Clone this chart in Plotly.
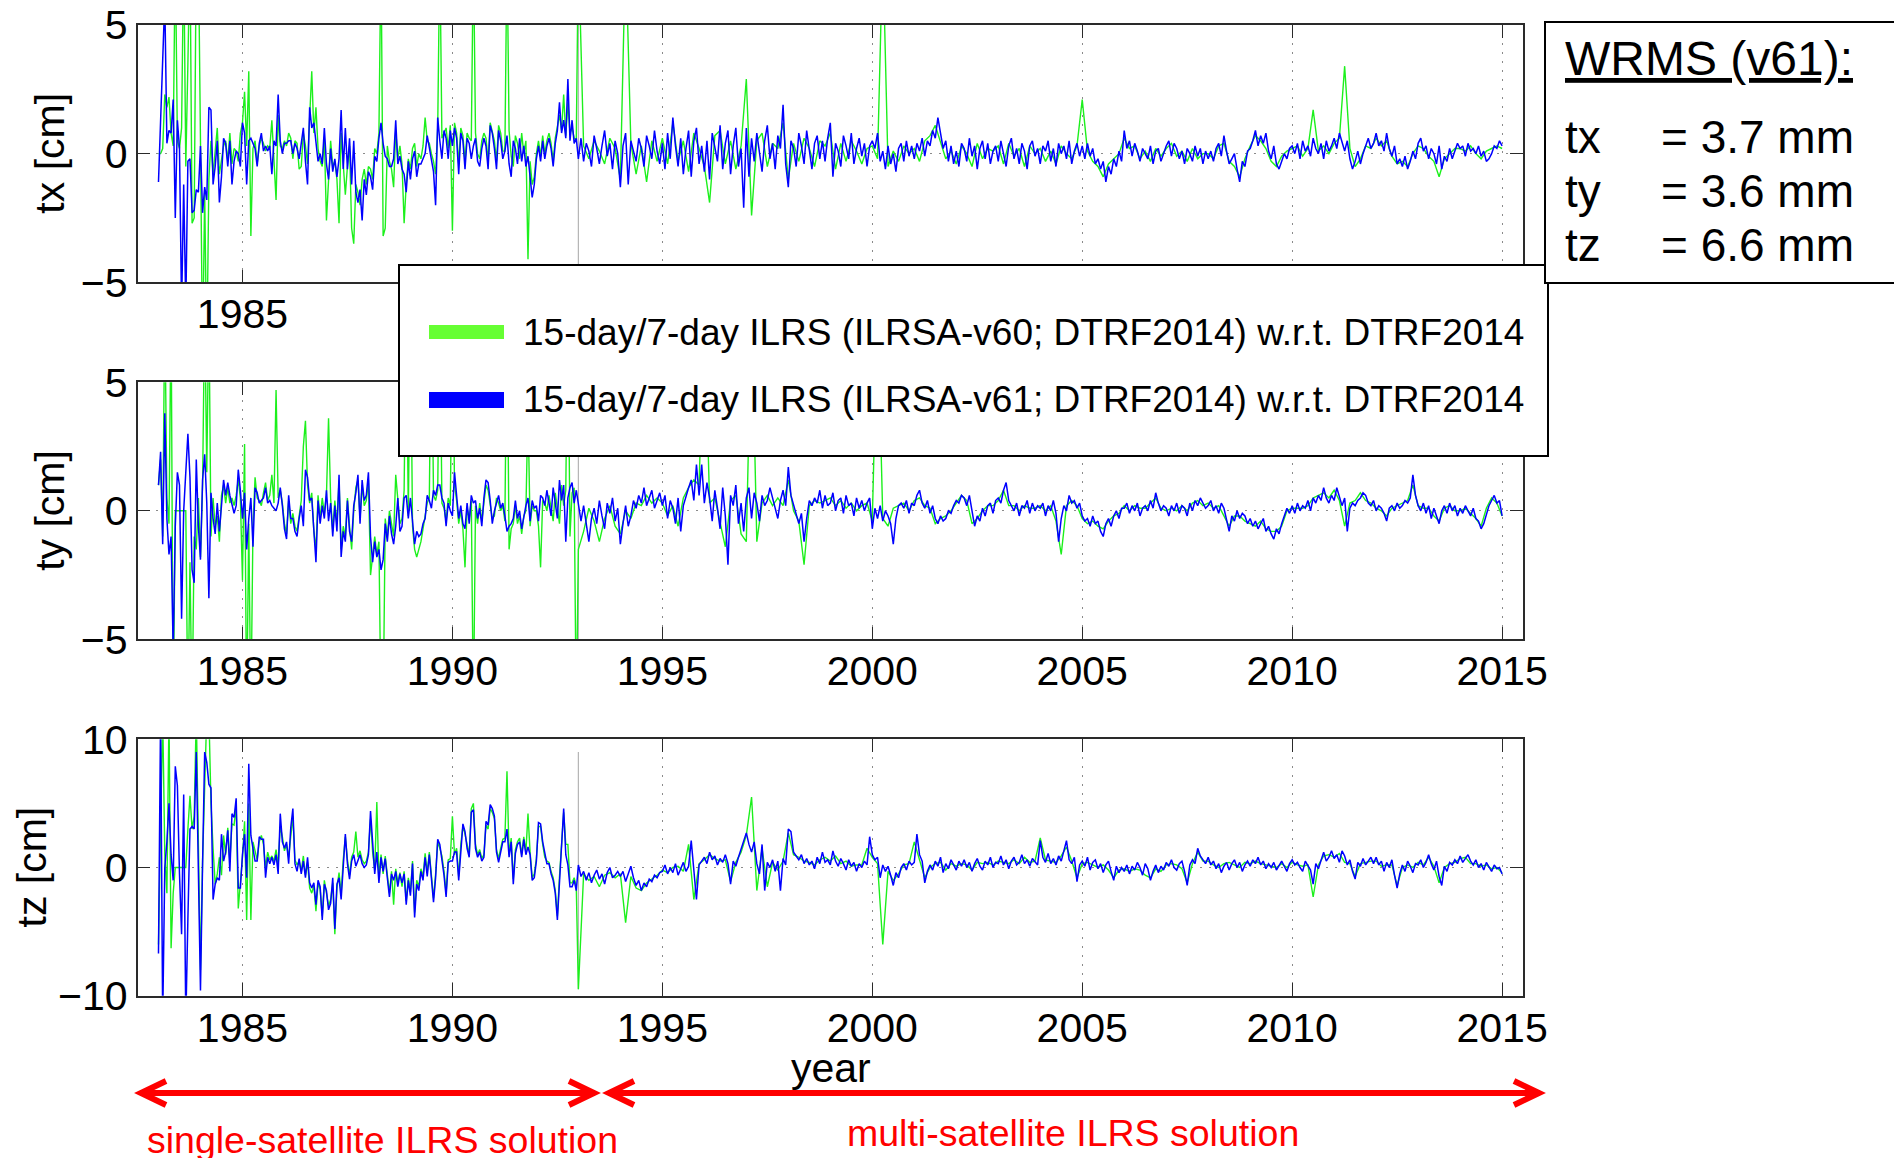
import numpy as np
import plotly.graph_objects as go

W, H = 1894, 1158
M = 20  # uniform margin (px); all positions below are given in figure pixels
FONT = "Liberation Sans, Arial, Helvetica, sans-serif"

# ---------------- epochs (years) ----------------
SINGLE_START, SINGLE_END = 1983.0, 1992.95   # single-satellite, ~20 solutions / yr
MULTI_START, MULTI_END = 1993.0, 2015.0      # multi-satellite
GRAY_EPOCH = 1993.0                          # transition marker line
YEAR_TICKS = [1985, 1990, 1995, 2000, 2005, 2010, 2015]

# ---------------- tx [cm] ----------------
tx_v61_single = [
    -1.1, 1.5, 3.4, 6.0, 0.4, 0.9, 0.8, 2.1, -2.5, 1.3, 0.2, -6.0, -1.2, -6.0, -0.3, -0.2, -2.3, -2.2, -1.4, -1.5,
    0.3, -2.3, -1.3, -1.8, 1.8, 1.7, -1.2, -0.5, 0.5, -1.9, -0.9, 0.6, 0.4, -0.5, 0.5, -1.2, -0.3, 0.1, 0.0, -0.5,
    1.2, 0.8, -1.2, 0.5, 0.6, 0.4, 0.2, -0.5, 0.4, 0.8, 0.1, 0.3, 0.1, 0.3, -0.8, 0.5, 0.3, 2.3, 0.5, 0.0,
    0.4, 0.4, 0.5, 0.5, 0.0, 0.4, 0.2, -0.2, 0.5, 1.0, -0.3, -1.2, 1.8, 1.0, 1.2, 0.5, -0.3, 0.0, -0.4, 1.0,
    -0.4, -1.0, 0.2, -0.7, -0.2, -0.9, -0.2, 1.7, -0.6, 1.0, -0.6, 0.6, -1.2, 0.5, -1.5, -1.9, -1.4, -2.6, -1.0, -1.6,
    -0.7, -0.9, -1.4, -0.1, -0.3, 0.6, 1.2, 0.4, -0.1, -0.2, -0.5, -0.5, -0.2, 1.3, -0.4, -0.1, -0.6, -0.8, -1.5, -0.3,
    -1.0, -0.2, 0.1, -0.9, -0.4, -0.4, -0.2, 0.0, 0.7, 0.2, -0.3, -0.7, -2.0, 1.4, 0.5, -0.2, 0.9, 0.6, -0.2, 0.9,
    0.3, 1.0, 0.6, -0.8, 0.8, 0.5, -0.6, 0.6, 0.4, -0.2, 0.3, 0.6, -0.3, -0.5, 0.2, 0.6, 0.3, -0.6, 1.1, 0.8,
    0.2, -0.6, 0.9, 0.5, -0.2, 0.1, 0.7, -0.4, -0.9, 0.5, 0.2, -0.4, 0.6, -0.3, 0.3, -0.5, -0.1, -0.8, -1.7, -1.2,
    -0.2, 0.3, -0.3, 0.5, -0.2, 0.3, 0.6, 0.2, -0.5, 0.4, 0.9, 2.0, 0.8, 1.3, 0.6, 2.9, 0.5, 1.3, 0.4, 0.6,
]
tx_v60_single = [
    0.0, 0.0, 0.2, 2.3, 1.8, 2.2, 0.8, 0.3, 8.0, 0.5, 0.2, 1.0, 8.0, -0.5, 3.5, 8.0, -2.7, -2.5, 8.0, 8.0,
    0.5, -8.0, -1.5, -8.0, -1.0, 0.5, -0.8, 0.2, 1.0, -0.8, -0.2, 0.3, 0.5, -0.3, 0.8, -0.4, 0.2, 0.1, -0.3, 0.8,
    1.2, 2.4, 0.3, 3.2, -3.2, 0.2, 0.5, -0.4, 0.3, 0.6, 0.4, 0.1, 0.3, 0.2, 1.3, -0.3, -1.8, 1.5, 0.3, 0.2,
    0.5, 0.3, 0.8, 0.6, -0.2, 0.5, 0.4, -0.6, -0.5, 0.8, 0.3, -0.4, 1.2, 3.2, 0.8, 1.8, 0.2, -0.3, -0.5, 0.6,
    -2.6, -0.8, 0.5, -0.5, -0.3, -1.0, -2.7, 0.8, -0.4, -1.6, -0.5, 0.3, -2.9, -3.5, -1.2, -1.5, -2.0, -1.0, -0.6, -1.2,
    -0.5, -0.6, -1.0, 0.2, 0.0, 0.8, 8.0, -3.2, -2.9, 0.3, -0.3, -0.6, -1.3, 0.9, -0.2, 0.3, -0.4, -2.7, -1.2, -0.2,
    -0.6, 0.2, 0.4, -0.5, 0.0, -0.2, 0.3, 1.4, 0.5, 0.4, 0.0, -0.3, -0.8, 1.0, 8.0, 0.6, 0.8, 1.0, 0.2, 1.1,
    -3.0, 1.2, 0.8, -0.4, 1.0, 0.7, -0.3, 0.8, 0.6, 0.5, 8.0, 0.8, 0.0, -0.2, 0.5, 0.8, 0.6, -0.3, 1.2, 0.9,
    0.5, -0.3, 1.1, 0.8, 0.1, 0.1, 8.0, 0.9, -0.1, -0.5, 0.7, 0.4, -0.2, 0.8, 0.0, 0.5, -4.1, -0.3, -1.2, -0.9,
    0.0, 0.5, -0.1, 0.7, 0.0, 0.5, 0.8, 0.4, -0.3, 0.6, 1.1, 1.5, 0.9, 2.3, 0.7, 2.0, 0.8, 1.0, 0.6, 0.5,
]
tx_v61_multi = [
    -0.2, 0.6, -0.3, 0.4, 0.1, -0.5, 0.7, 0.2, -0.4, 0.3, 0.9, -0.1, 0.4, -0.6, 0.5, 0.0,
    -1.3, 0.3, 0.8, -1.2, 0.5, 0.1, -0.3, 0.6, 0.2, -0.5, 0.7, 0.3, -0.2, 0.9, 0.1, -0.4,
    0.4, -0.6, 0.8, -0.2, 1.4, 0.3, -0.5, 0.6, -0.8, 0.2, 0.9, -0.9, 0.5, 1.0, -0.4, 0.3,
    -0.7, 0.5, -1.0, 0.8, 0.2, -0.3, 1.1, -0.6, 0.4, 0.9, -0.8, 0.3, 1.0, -0.5, 0.2, -2.1,
    1.0, -0.9, 0.6, -0.3, 0.8, 0.1, -0.7, 0.5, 1.1, -0.2, 0.4, -0.6, 0.7, 0.2, 1.9, -0.4,
    -1.3, 0.5, 0.2, -0.5, 0.8, 0.3, -0.4, 0.9, 0.1, -0.6, 0.4, 0.7, -0.2, 0.5, -0.3, 0.6,
    1.2, -0.9, 0.4, 0.1, -0.5, 0.7, 0.3, -0.2, 0.8, -0.4, 0.2, 0.6, -0.1, 0.4, -0.5, 0.3,
    0.5, 0.2, 0.8, -0.3, 0.1, -0.6, 0.3, -0.4, 0.0, -0.7, 0.2, 0.4, -0.3, 0.5, -0.1, 0.3,
    -0.2, 0.4, 0.1, 0.6, -0.1, 0.5, 0.3, 0.9, 0.6, 1.4, 0.8, 0.2, 0.5, -0.3, 0.3, -0.4,
    0.1, -0.5, 0.4, 0.2, -0.3, 0.6, -0.1, 0.3, -0.6, 0.2, 0.5, -0.2, 0.4, -0.4, 0.1, 0.3,
    -0.3, 0.5, 0.0, -0.5, 0.3, 0.6, -0.2, 0.2, -0.4, 0.4, 0.1, -0.6, 0.3, 0.5, -0.1, 0.2,
    -0.4, 0.3, 0.1, 0.5, -0.3, 0.2, -0.5, 0.4, 0.0, 0.3, -0.2, 0.5, -0.4, 0.1, 0.4, -0.1,
    0.3, -0.2, 0.4, -0.1, 0.2, -0.4, -0.2, -0.6, -0.3, -1.1, -0.5, -0.8, -0.2, -0.5, 0.1, -0.3,
    0.9, 0.2, 0.5, -0.1, 0.4, 0.1, -0.3, 0.2, 0.0, -0.2, 0.3, -0.4, 0.1, 0.2, -0.3, 0.0,
    0.3, 0.5, -0.1, 0.4, 0.2, -0.2, 0.1, -0.4, 0.2, 0.0, -0.3, 0.3, -0.1, 0.2, -0.4, 0.1,
    -0.2, 0.1, -0.3, 0.2, 0.4, -0.1, 0.7, 0.1, -0.4, -0.2, 0.0, -0.6, -1.1, -0.3, -0.5, 0.1,
    0.2, 0.5, 0.9, 0.3, 0.7, 0.4, 0.8, 0.1, -0.2, 0.3, -0.4, -0.6, -0.3, 0.0, -0.2, 0.2,
    0.3, 0.0, 0.4, -0.2, 0.5, 0.1, 0.3, -0.1, 0.6, 0.2, 0.0, 0.4, -0.2, 0.5, 0.1, 0.3,
    0.6, 0.2, 0.8, 0.4, 0.1, 0.5, -0.2, -0.6, -0.3, 0.1, -0.4, 0.0, 0.3, 0.6, 0.2, 0.4,
    0.8, 0.3, 0.5, 0.1, 0.8, 0.2, -0.1, 0.3, -0.4, -0.2, -0.5, -0.1, -0.6, -0.3, 0.1, -0.2,
    0.4, 0.6, 0.1, 0.3, -0.2, 0.2, 0.0, -0.4, 0.3, -0.6, -0.1, -0.3, 0.2, -0.2, 0.1, 0.4,
    0.2, 0.3, -0.1, 0.4, 0.1, 0.2, 0.0, 0.3, -0.1, 0.1, -0.3, -0.2, 0.0, 0.3, 0.2, 0.5,
    0.3,
]
tx_v60_multi = [
    8.0, 0.3, -0.2, 0.5, 0.1, -0.4, 0.6, 0.2,
    -1.0, 8.0, 0.4, -0.8, 0.3, -1.1, 0.5, -0.3,
    0.6, -0.4, 1.2, -0.3, 0.5, -0.7, 0.8, 0.2,
    -0.5, -1.9, 0.7, 0.9, -0.4, 0.5, -0.6, 0.3,
    2.9, -2.4, 0.5, 0.8, -0.5, 0.4, 0.2, 1.2,
    -1.0, 0.4, -0.3, 0.6, 0.2, -0.5, 0.5, 0.3,
    0.8, -0.6, 0.4, -0.3, 0.5, 0.1, -0.4, 0.2,
    0.3, -0.2, 8.0, -0.5, 0.1, -0.3, 0.3, 0.0,
    0.2, -0.3, 0.5, 0.7, 1.1, 0.4, -0.2, 0.1,
    -0.4, 0.3, 0.0, -0.5, 0.4, -0.2, 0.2, 0.1,
    0.3, -0.4, 0.4, -0.1, 0.2, -0.5, 0.3, 0.0,
    0.2, -0.3, 0.1, -0.4, 0.3, 0.0, -0.2, 0.3,
    2.1, 0.1, -0.3, -0.5, -0.9, -0.4, -0.2, 0.0,
    0.6, 0.2, 0.3, -0.2, 0.1, -0.3, 0.2, -0.1,
    0.2, 0.4, -0.1, 0.1, -0.3, 0.2, -0.2, 0.0,
    0.0, -0.2, 0.3, 0.4, -0.3, -0.5, -0.9, -0.2,
    0.3, 0.7, 0.5, 0.2, -0.3, -0.5, -0.1, 0.1,
    0.2, 0.3, -0.1, 0.2, 1.7, 0.1, 0.3, 0.0,
    0.4, 0.6, 3.4, 0.2, -0.5, -0.2, 0.3, 0.2,
    0.6, 0.3, 0.5, -0.1, -0.4, -0.3, -0.5, 0.0,
    0.3, 0.2, -0.1, -0.3, -0.9, -0.2, 0.0, 0.2,
    0.2, 0.1, 0.3, 0.0, -0.2, 0.1, 0.2, 0.3,
    0.2,
]

# ---------------- ty [cm] ----------------
ty_v61_single = [
    1.0, 2.3, -1.3, 3.8, -0.3, -1.7, -1.0, -5.5, -0.6, 1.5, 1.0, -4.2, 0.0, 1.5, 3.0, 1.3, -2.3, -2.8, 2.0, -0.6,
    -1.9, 1.2, 2.2, 0.3, -3.4, 0.7, -0.3, -0.9, 0.3, -0.8, 0.2, 1.2, 0.6, 1.1, 0.6, 0.3, -0.1, 0.2, 1.6, 0.8,
    -0.3, 0.7, -1.5, -0.3, 0.5, -1.4, 0.9, 0.7, 0.3, 0.4, 0.5, 0.9, 0.3, 0.4, 0.2, 0.1, 0.0, 0.3, 0.9, 0.2,
    -0.7, -1.1, 0.6, -0.3, -0.3, -0.8, -1.0, -0.3, 0.2, -0.6, 1.6, 1.3, 0.4, 0.5, -1.0, -2.0, 0.4, -0.5, 0.2, -0.3,
    0.8, -0.4, 0.3, -1.0, 0.2, -0.8, 1.4, -1.8, -0.8, -1.2, 0.4, -0.8, -1.2, 0.2, 0.7, 1.4, -0.5, 1.2, 0.4, 0.6,
    1.5, -1.0, -2.0, -1.2, -1.8, -1.5, -2.3, -1.9, -0.5, -1.2, -0.2, -0.9, -1.3, -0.6, 0.5, -0.8, -0.6, 0.5, 0.6, -0.3,
    0.5, -0.4, -1.3, -0.8, -1.0, -0.9, -0.5, -0.3, 0.6, 0.4, 0.1, 0.8, 0.6, 1.0, 1.0, 0.5, 0.3, -0.6, 0.3, 0.0,
    -0.2, 1.5, 0.6, -0.3, 0.2, -0.5, -0.7, 0.3, -0.5, 0.6, 0.3, 0.4, -0.3, 0.1, -0.6, 0.5, 1.2, 1.1, 0.4, -0.5,
    0.0, 0.3, 0.6, 0.1, 0.3, -0.2, -0.8, -0.6, -0.5, -0.3, 0.4, -0.3, 0.0, -0.7, -0.2, 0.2, 0.5, -0.4, 0.4, 0.1,
    0.2, -0.4, 0.6, 0.5, 0.2, 0.8, 0.3, -0.2, 0.9, 0.3, -0.3, 1.2, 0.4, 1.0, -1.2, 0.5, 0.9, 1.1, 0.3, 0.8,
]
ty_v60_single = [
    1.0, 2.0, -1.0, 8.0, 0.5, -0.5, 8.0, -8.0, 0.0, 0.0, 0.0, 0.0, 0.0, 0.0, -8.0, -2.0, -8.0, -1.0, -1.5, 0.5,
    -1.8, 1.0, 8.0, 1.5, 8.0, -1.0, 0.5, -0.6, -0.2, -1.2, 0.6, 1.0, 0.3, 0.9, 0.3, 0.5, 0.2, 0.6, 1.2, 0.5,
    -2.7, 2.6, -8.0, -0.5, -8.0, -0.6, 1.3, 0.5, 0.4, 0.2, 0.7, 1.1, 0.4, 0.6, 1.4, 0.3, 4.7, 0.5, 0.8, 0.3,
    -0.5, -0.9, 0.4, -0.5, -0.1, -0.6, -0.8, -0.2, 0.4, 2.5, 3.5, 1.0, 0.3, 0.7, -0.8, -1.5, 0.6, -0.3, 0.5, -0.1,
    0.6, 3.6, 0.5, -0.8, 0.4, -0.5, 1.2, -1.5, -0.6, -1.0, 0.5, -0.6, -1.5, 0.0, 0.9, 1.2, -0.3, 1.0, 0.2, 0.4,
    1.2, -2.5, -1.8, -1.0, -1.7, -1.2, -8.0, -8.0, -0.3, -1.0, 0.0, -0.6, -1.0, 1.4, 0.3, -0.5, -0.3, 0.8, 8.0, -0.2,
    8.0, -0.6, -1.5, -1.8, -1.5, -1.2, -0.7, -0.2, 0.3, 0.5, 8.0, 0.6, 0.4, 0.8, 8.0, 0.3, 0.1, -0.4, 0.5, 0.2,
    8.0, 1.0, 0.4, -0.5, 0.0, -0.7, -2.2, 0.1, -0.3, 0.4, -8.0, 0.2, -0.5, 0.3, -0.4, 0.3, 1.0, 0.8, 0.2, -0.3,
    -0.2, 0.5, 0.3, 0.0, 0.2, -0.4, 8.0, -1.5, -0.7, -0.5, 0.2, -0.5, -0.2, -0.9, -0.2, 0.0, 4.0, -0.6, 0.2, 0.0,
    0.0, -0.6, -2.2, 0.4, 0.3, 0.0, 0.6, 0.1, -0.4, 0.7, 0.1, -0.5, 1.0, 0.2, 0.8, 8.0, -1.0, 0.7, 0.9, -8.0,
]
ty_v61_multi = [
    0.3, -0.4, 0.2, -0.6, -1.2, -0.3, 0.1, -0.5, 0.4, -0.2, -0.7, 0.3, -0.1, 0.5, -0.4, 0.1,
    -1.3, -0.5, 0.2, -0.6, -0.2, 0.4, 0.1, 0.6, 0.3, 0.9, 0.2, 0.5, 0.8, 0.1, 0.4, 0.7,
    0.2, 0.6, -0.3, 0.4, 0.1, -0.5, 0.5, -0.8, 0.2, 0.6, 0.9, 1.2, 0.4, 1.8, 0.6, 1.8,
    0.3, 1.1, 0.5, -0.4, 0.8, 0.1, -0.7, 0.9, -0.2, -2.1, 0.6, 0.2, 1.0, -0.5, 0.3, -0.8,
    0.5, 0.9, -0.3, 0.7, 0.3, -0.4, 0.6, 0.2, 0.4, 0.9, 0.5, 0.1, -0.3, 0.4, 0.8, 0.2,
    1.7, 0.6, 0.2, -0.2, -0.5, -0.1, -1.2, -0.3, 0.4, 0.2, 0.5, 0.3, 0.8, 0.1, 0.6, 0.2,
    0.3, 0.7, 0.0, 0.4, 0.5, -0.1, 0.6, 0.2, 0.3, -0.2, 0.5, 0.1, 0.4, 0.0, 0.3, 0.5,
    -0.7, 0.1, -0.3, 0.2, -0.4, 0.0, -0.2, -0.5, -1.3, -0.3, 0.2, 0.3, 0.1, 0.4, -0.1, 0.3,
    0.2, 0.6, 0.8, 0.3, 0.1, 0.4, -0.1, 0.2, -0.3, -0.5, -0.2, -0.4, -0.3, 0.0, -0.1, 0.2,
    0.4, 0.3, 0.6, 0.5, 0.2, 0.6, -0.1, -0.6, -0.2, -0.4, 0.1, -0.2, 0.2, 0.3, -0.1, 0.4,
    0.5, 0.3, 0.8, 1.1, 0.4, 0.2, 0.0, 0.3, -0.2, 0.2, 0.1, 0.4, -0.1, 0.3, 0.0, 0.2,
    0.1, 0.3, -0.2, 0.2, 0.0, 0.4, -0.1, -1.2, -0.3, 0.2, 0.0, 0.6, 0.3, 0.4, 0.1, 0.3,
    -0.2, -0.4, -0.3, -0.6, -0.2, -0.5, -0.4, -0.8, -1.0, -0.5, -0.3, -0.6, -0.2, 0.0, -0.3, 0.1,
    0.1, 0.3, -0.1, 0.2, 0.0, 0.3, -0.2, 0.1, 0.2, 0.0, 0.4, 0.1, 0.7, 0.3, 0.0, 0.2,
    0.1, -0.2, 0.2, 0.0, 0.3, -0.1, 0.2, 0.1, -0.2, 0.3, 0.0, 0.4, 0.2, 0.5, 0.3, 0.1,
    0.2, 0.4, 0.0, 0.2, -0.1, 0.3, 0.1, -0.3, -0.8, -0.2, -0.4, 0.0, -0.3, -0.1, -0.2, -0.5,
    -0.3, -0.6, -0.4, -0.7, -0.5, -0.3, -0.8, -0.6, -0.9, -1.1, -0.7, -0.9, -0.5, -0.2, 0.1, -0.1,
    0.2, -0.1, 0.3, 0.0, 0.2, 0.1, 0.4, 0.0, 0.5, 0.3, 0.6, 0.4, 0.9, 0.5, 0.3, 0.6,
    0.4, 0.9, 0.5, 0.2, 0.5, -0.8, 0.1, 0.3, 0.2, 0.4, 0.5, 0.7, 0.6, 0.3, 0.2, 0.4,
    0.0, 0.2, 0.1, -0.1, -0.4, 0.1, 0.2, 0.0, 0.3, 0.1, 0.2, 0.4, 0.3, 0.5, 1.4, 0.6,
    0.2, 0.0, 0.3, -0.1, 0.2, -0.3, 0.1, -0.2, -0.5, 0.0, 0.2, -0.1, 0.3, 0.0, 0.2, -0.2,
    0.1, -0.1, 0.2, 0.0, -0.2, 0.1, -0.3, -0.4, -0.7, -0.5, -0.1, 0.2, 0.4, 0.6, 0.3, 0.4,
    -0.2,
]
ty_v60_multi = [
    -1.5, -0.8, 0.1, -0.4, -1.2, -0.3, 0.2, -0.6,
    -0.9, 0.0, -0.3, 0.3, 0.2, 0.6, 0.3, 0.5,
    0.3, -0.2, 0.2, -0.6, 0.5, 0.9, 1.2, 1.0,
    8.0, 0.3, 0.5, -0.5, -1.4, 0.4, 0.6, -0.9,
    -1.2, 8.0, -1.2, 0.3, 0.6, 0.2, 0.5, 0.2,
    1.2, 0.0, -0.4, -2.1, 0.2, 0.4, 0.3, 0.4,
    0.5, 0.2, 0.4, 0.1, 0.3, 0.0, 0.2, 0.3,
    -0.4, 8.0, -0.3, -0.6, 0.1, 0.2, 0.3, 0.0,
    0.4, 0.5, 0.2, 0.1, -0.5, -0.3, -0.2, 0.0,
    0.3, 0.6, 0.4, -0.5, -0.3, 0.0, 0.2, 0.2,
    0.4, 0.8, 0.2, 0.2, 0.0, 0.2, 0.1, 0.1,
    0.2, 0.0, 0.2, -0.4, -1.7, 0.2, 0.4, 0.2,
    -0.3, -0.5, -0.4, -0.6, -0.7, -0.4, -0.2, -0.1,
    0.2, 0.0, 0.2, 0.1, 0.1, 0.3, 0.5, 0.1,
    0.0, 0.1, 0.0, 0.2, 0.0, 0.3, 0.4, 0.2,
    0.3, 0.1, 0.2, -0.2, -0.6, -0.2, -0.2, -0.4,
    -0.5, -0.6, -0.4, -0.7, -0.8, -0.8, -0.6, 0.0,
    0.1, 0.1, 0.1, 0.2, 0.5, 0.6, 0.7, 0.5,
    0.8, 0.4, -0.6, 0.3, 0.4, 0.7, 0.4, 0.3,
    0.1, 0.0, -0.2, 0.1, 0.2, 0.3, 0.4, 1.0,
    0.2, 0.1, 0.1, -0.2, -0.4, 0.1, 0.2, 0.0,
    0.0, 0.1, -0.1, -0.3, -0.6, 0.1, 0.5, 0.3,
    -0.2,
]

# ---------------- tz [cm] ----------------
tz_v61_single = [
    -6.7, 12.0, -12.0, 0.0, 2.0, 5.0, 1.0, -1.0, 7.9, 6.4, -0.5, -5.2, 5.7, -12.0, -4.0, 3.0, 3.2, 3.0, 9.0, 0.2,
    -9.6, 0.3, 9.0, 8.2, 6.5, 6.2, -2.5, -1.3, -0.8, -1.0, 2.6, 0.5, 1.2, 2.9, -0.3, 4.2, 3.9, 5.4, -1.6, -1.6,
    1.0, 2.6, -0.8, 8.1, 2.5, 1.5, 0.5, 0.5, 2.4, 2.2, 2.2, -0.8, 0.8, 0.3, 0.8, 0.2, 1.0, -0.5, 4.2, 2.0,
    1.5, 2.0, 0.3, 3.1, 4.6, 0.3, -0.3, 0.7, -0.5, 0.5, -0.8, 0.8, -1.2, -1.6, -1.2, -2.9, -1.0, -1.5, -4.1, -1.3,
    -1.8, -3.3, -2.8, -0.8, -4.8, -1.3, -0.8, -2.5, 0.3, 2.6, 0.3, -0.9, 0.5, 1.0, 0.1, 0.5, 1.0, 0.3, 0.0, 0.2,
    1.0, 4.4, 1.5, -0.5, 1.2, -1.2, 0.8, -0.3, 0.7, -1.0, -2.3, -0.5, -1.0, -0.3, -1.5, -0.5, -1.2, -0.5, -2.9, -1.0,
    -2.2, 0.3, -3.9, -1.3, -1.8, -0.3, -1.0, 0.8, -0.7, 1.0, -1.1, -2.7, -0.8, 2.2, 1.8, 0.7, -0.6, -2.3, 0.4, 0.5,
    0.5, 1.2, 1.2, -1.0, 1.5, 3.4, 2.8, 1.5, 0.8, 4.3, 4.5, 1.5, 0.8, 1.2, 0.5, 0.8, 3.6, 3.3, 4.9, 4.6,
    4.0, 1.2, 0.4, 1.2, 2.0, 2.0, 3.0, 0.8, 2.0, -1.3, 1.1, 1.8, 2.0, 0.8, 2.2, 1.0, 1.6, 1.0, -1.0, -0.8,
    0.5, 3.5, 3.4, 2.0, 1.0, 0.3, 0.3, -0.5, -1.0, -2.0, -4.1, -1.0, 2.5, 4.6, 1.0, 0.2, -1.5, -1.5, -1.0, -1.8,
]
tz_v60_single = [
    -6.0, 3.0, 12.0, 1.0, -2.0, 12.0, -6.3, -2.0, 0.0, 0.0, 0.0, 0.0, 0.0, 0.0, 3.0, 5.6, 3.0, 4.0, 12.0, 0.5,
    -8.0, 0.5, 8.5, 12.0, 12.0, 5.0, 1.5, -1.3, -0.5, 0.8, -0.6, 2.5, 1.0, 3.1, 0.5, 3.4, 3.3, 4.8, -3.2, -1.5,
    0.8, 3.6, -4.1, 5.0, -4.1, 2.0, 1.2, 0.6, 2.0, 2.5, 1.8, 0.0, 1.2, 0.6, 0.9, 0.5, 1.4, 0.2, 3.2, 2.4,
    1.3, 1.8, 0.8, 2.6, 4.0, 0.6, 0.2, 0.5, -0.3, 0.9, -0.6, 0.4, -1.6, -2.0, -1.4, -3.4, -1.2, -1.7, -3.8, -1.0,
    -2.2, -3.0, -2.5, -1.2, -5.2, -1.6, -0.4, -2.0, 0.6, 2.4, 0.6, -0.6, 0.8, 1.2, 2.8, 0.8, 1.3, 0.6, 0.3, 0.5,
    1.2, 3.8, 1.2, -0.2, 5.1, -0.9, 1.0, -0.5, 0.9, -0.8, -2.0, -0.3, -2.9, -0.1, -1.2, -0.4, -1.5, -0.3, -2.6, -0.8,
    -1.9, 0.5, -3.5, -1.0, -1.5, -0.1, -0.7, 1.1, -0.4, 1.2, -0.8, -2.4, -0.5, 2.0, 1.5, 0.9, -0.3, -2.0, 0.6, 0.7,
    4.0, 1.0, 1.5, -0.7, 1.8, 3.2, 2.6, 1.7, 1.0, 4.6, 5.0, 1.8, 1.0, 1.4, 0.7, 1.0, 3.3, 3.0, 4.6, 4.3,
    3.8, 1.4, 0.7, 1.5, 2.2, 2.3, 7.5, 1.0, 2.3, -0.9, 1.4, 2.0, 2.3, 1.0, 2.4, 1.2, 4.2, 1.2, -0.8, -0.5,
    0.7, 3.2, 3.2, 1.8, 0.8, 0.5, 0.4, -0.3, -0.8, -1.8, -3.8, -0.7, 2.2, 4.3, 1.8, 1.8, -1.2, -1.2, -0.8, -1.5,
]
tz_v61_multi = [
    0.2, -0.7, -0.3, -1.0, -0.4, -1.2, -0.6, -0.2, -0.9, -0.5, -1.3, -0.4, 0.0, -0.8, -0.6, -0.3,
    -0.7, -0.3, -1.1, -0.5, 0.1, -0.8, -1.4, -1.0, -1.8, -1.2, -1.5, -0.9, -1.1, -0.6, -0.8, -0.4,
    -0.3, 0.2, -0.5, 0.0, -0.4, 0.3, -0.6, -0.1, 0.4, -0.3, 0.1, 2.1, -0.5, -2.5, 0.2, 0.5,
    0.8, 0.3, 1.2, 0.6, 0.9, 0.2, 0.7, 0.4, 1.0, 0.3, -1.3, 0.5, 0.1, 0.8, 1.5, 2.2,
    2.7, 1.8, 1.2, 2.0, 0.3, -0.5, 1.8, -1.8, 0.4, 0.0, 0.6, -0.3, 0.5, -1.8, 0.7, 0.2,
    3.0, 2.8, 1.2, 0.9, 0.6, 1.0, 0.3, 0.7, 0.2, 0.5, -0.1, 0.8, 0.3, 1.2, 0.4, 0.6,
    0.2, 1.3, 0.5, 0.1, 0.7, 0.3, -0.2, 0.6, 0.1, 0.4, -0.3, 0.3, 0.0, 0.5, 0.2, 2.4,
    1.0, 0.6, 0.8, -0.8, 0.2, -0.3, 0.1, -0.6, -1.4, -0.4, -0.8, 0.0, 0.3, -0.2, 0.5, 0.2,
    0.4, 2.6, 1.0, 0.5, -1.2, -0.3, 0.2, -0.2, 0.5, 0.1, 0.8, -0.4, 0.3, -0.1, 0.6, 0.2,
    -0.2, 0.5, 0.1, 0.6, 0.0, 0.4, -0.3, 0.3, 0.7, 0.1, -0.2, 0.5, 0.2, 0.8, 0.0, 0.4,
    0.3, 0.9, 0.2, 0.6, -0.1, 0.5, 0.8, 0.2, 0.4, 1.0, 0.3, 0.6, 0.1, 0.7, 0.4, 0.2,
    2.1, 0.8, 0.4, 1.1, 0.3, 0.7, 0.2, 0.9, 0.5, 1.2, 2.1, 0.6, 0.3, 0.8, -1.1, 0.2,
    0.5, 0.1, 0.8, -0.2, 0.4, 0.6, -0.1, 0.3, -0.4, 0.2, 0.5, -0.3, -1.0, 0.1, -0.4, 0.0,
    -0.3, 0.2, -0.5, 0.1, -0.2, 0.4, 0.0, -0.6, 0.3, -0.1, -1.0, -0.3, 0.2, -0.4, 0.1, -0.2,
    0.4, 0.1, 0.6, 0.0, -0.2, 0.3, 0.5, -0.3, -1.4, 0.2, 0.6, 0.3, 1.5, 0.9, 0.6, 0.3,
    0.8, 0.2, 0.5, -0.1, 0.3, -0.4, 0.1, 0.4, -0.2, 0.3, 0.6, 0.0, 0.4, -0.3, 0.2, 0.5,
    0.1, 0.6, 0.3, 0.8, 0.2, 0.5, -0.1, 0.3, 0.0, 0.4, -0.2, 0.2, 0.5, 0.1, -0.3, 0.3,
    0.6, 0.2, 0.4, 0.0, -0.3, 0.5, 0.1, -0.2, -1.3, 0.3, -0.1, 0.6, 1.2, 0.5, 0.8, 1.3,
    0.7, 1.0, 0.4, 1.3, 0.9, 0.2, 0.6, -0.3, -0.9, 0.4, 0.1, 0.7, 0.2, 0.5, 0.8, 0.3,
    0.8, 0.2, 0.5, -0.3, 0.4, 0.0, 0.6, -0.6, -1.6, -0.5, 0.2, -0.3, 0.5, 0.1, -0.4, 0.3,
    0.2, 0.6, 0.0, 0.4, 1.0, 0.3, -0.2, 0.5, -0.7, -1.4, 0.1, -0.3, 0.4, 0.2, 0.6, 0.3,
    0.9, 0.4, 0.7, 1.0, 0.5, 0.2, 0.6, 0.0, 0.3, -0.2, 0.4, 0.1, -0.3, 0.2, -0.1, 0.0,
    -0.5,
]
tz_v60_multi = [
    -9.5, -0.5, -1.0, -0.7, -1.5, -0.6, -0.4, -0.8,
    -0.5, -4.3, -0.7, -1.6, -1.8, -1.2, -0.9, -0.6,
    -0.2, -0.4, 0.0, 0.1, -0.3, 1.8, -2.5, 0.3,
    0.6, 1.0, 0.7, 0.5, 0.6, -1.1, 0.4, 1.2,
    2.5, 5.5, -1.8, 1.5, -1.5, 0.4, -0.2, 0.5,
    2.7, 1.0, 0.8, 0.5, 0.4, 0.2, 0.6, 0.8,
    0.5, 0.9, 0.3, 0.5, 0.1, 0.2, 0.2, 1.5,
    0.8, 0.3, -6.0, -0.3, -1.0, -0.5, 0.2, 0.3,
    2.0, 0.5, -0.8, 0.0, 0.3, 0.4, -0.2, 0.3,
    0.1, 0.3, 0.2, -0.2, 0.4, 0.3, 0.4, 0.2,
    0.5, 0.4, 0.3, 0.6, 0.3, 0.8, 0.4, 0.5,
    2.3, 0.6, 0.5, 0.4, 0.9, 1.6, 0.5, -0.8,
    0.3, 0.4, 0.2, 0.0, 0.2, -0.2, -0.8, -0.2,
    -0.1, -0.3, -0.1, -0.2, -0.6, -0.8, -0.1, -0.3,
    0.2, 0.3, 0.2, -0.1, -1.2, 0.3, 1.2, 0.5,
    0.5, 0.2, 0.0, 0.3, 0.4, 0.2, 0.0, 0.4,
    0.3, 0.5, 0.3, 0.2, 0.1, 0.0, 0.3, 0.0,
    0.4, 0.2, 0.1, 0.2, -2.3, 0.2, 0.9, 1.0,
    0.8, 1.1, 0.4, 0.3, -0.7, 0.3, 0.4, 0.5,
    0.5, 0.1, 0.2, 0.2, -1.4, 0.0, 0.2, 0.0,
    0.4, 0.2, 0.8, 0.1, -1.2, 0.0, 0.3, 0.4,
    0.7, 0.8, 0.3, 0.3, 0.1, 0.2, -0.1, 0.0,
    -0.4,
]

# transition marker (gray vertical line) extents per panel [cm]
gray_tx = [5.0, -4.3]
gray_ty = [5.0, -5.0]
gray_tz = [9.0, -9.5]

# annotation texts
LEGEND_V60 = "15-day/7-day ILRS (ILRSA-v60; DTRF2014) w.r.t. DTRF2014"
LEGEND_V61 = "15-day/7-day ILRS (ILRSA-v61; DTRF2014) w.r.t. DTRF2014"
WRMS_ROWS = [("tx", "= 3.7 mm"), ("ty", "= 3.6 mm"), ("tz", "= 6.6 mm")]

GREEN = "#1cf01c"
BLUE = "#0000ff"
RED = "#ff0000"


def epochs(single, multi):
    return np.concatenate([np.linspace(SINGLE_START, SINGLE_END, len(single)),
                           np.linspace(MULTI_START, MULTI_END, len(multi))])


def px(x):
    return (x - M) / (W - 2 * M)


def py(y):
    return 1 - (y - M) / (H - 2 * M)


panels = [
    dict(v60=(tx_v60_single, tx_v60_multi), v61=(tx_v61_single, tx_v61_multi), gray=gray_tx,
         rng=[-5, 5], tv=[-5, 0, 5], top=25.0, bot=282.3, title="tx [cm]", tx=50),
    dict(v60=(ty_v60_single, ty_v60_multi), v61=(ty_v61_single, ty_v61_multi), gray=gray_ty,
         rng=[-5, 5], tv=[-5, 0, 5], top=382.3, bot=639.3, title="ty [cm]", tx=50),
    dict(v60=(tz_v60_single, tz_v60_multi), v61=(tz_v61_single, tz_v61_multi), gray=gray_tz,
         rng=[-10, 10], tv=[-10, 0, 10], top=739.3, bot=995.7, title="tz [cm]", tx=31),
]

fig = go.Figure()
layout = dict(width=W, height=H, margin=dict(l=M, r=M, t=M, b=M, autoexpand=False),
              paper_bgcolor="white", plot_bgcolor="white", showlegend=False)

axis_common = dict(showline=True, linecolor="#2a2a2a", linewidth=1.6, mirror="ticks",
                   ticks="inside", ticklen=13, tickwidth=1.4, tickcolor="#2a2a2a",
                   showgrid=True, gridcolor="#8a8a8a", gridwidth=1, griddash="2px,7px",
                   zeroline=False, automargin=False,
                   tickfont=dict(family=FONT, size=41, color="black"))

annotations = []
for k, p in enumerate(panels, start=1):
    xa = "x" if k == 1 else f"x{k}"
    ya = "y" if k == 1 else f"y{k}"
    fig.add_trace(go.Scatter(x=[GRAY_EPOCH, GRAY_EPOCH], y=p["gray"], mode="lines",
                             line=dict(color="#b4b4b4", width=1.2), xaxis=xa, yaxis=ya,
                             hoverinfo="skip"))
    fig.add_trace(go.Scatter(x=epochs(*p["v60"]), y=np.concatenate(p["v60"]), mode="lines",
                             line=dict(color=GREEN, width=1.4), xaxis=xa, yaxis=ya,
                             name="v60"))
    fig.add_trace(go.Scatter(x=epochs(*p["v61"]), y=np.concatenate(p["v61"]), mode="lines",
                             line=dict(color=BLUE, width=1.5), xaxis=xa, yaxis=ya,
                             name="v61"))
    xkey = "xaxis" if k == 1 else f"xaxis{k}"
    ykey = "yaxis" if k == 1 else f"yaxis{k}"
    layout[xkey] = dict(axis_common, domain=[px(137.5), px(1523.1)], range=[1982.5, 2015.5],
                        tickvals=YEAR_TICKS, anchor=ya, ticklabelstandoff=-5)
    layout[ykey] = dict(axis_common, domain=[py(p["bot"]), py(p["top"])], range=p["rng"],
                        tickvals=p["tv"], anchor=xa, ticklabelstandoff=0)
    annotations.append(dict(text=p["title"], x=px(p["tx"]), y=py((p["top"] + p["bot"]) / 2),
                            xref="paper", yref="paper", xanchor="center", yanchor="middle",
                            textangle=-90, showarrow=False,
                            font=dict(family=FONT, size=41, color="black")))

shapes = []
# legend box
shapes.append(dict(type="rect", xref="paper", yref="paper", x0=px(399), x1=px(1548),
                   y0=py(265), y1=py(456), fillcolor="white", line=dict(color="black", width=2),
                   layer="above"))
shapes.append(dict(type="rect", xref="paper", yref="paper", x0=px(429), x1=px(504),
                   y0=py(325), y1=py(339), fillcolor="#66ff33", line=dict(width=0), layer="above"))
shapes.append(dict(type="rect", xref="paper", yref="paper", x0=px(429), x1=px(504),
                   y0=py(392), y1=py(408), fillcolor=BLUE, line=dict(width=0), layer="above"))
annotations.append(dict(text=LEGEND_V60, x=px(521), y=py(332), xref="paper", yref="paper",
                        xanchor="left", yanchor="middle", showarrow=False,
                        font=dict(family=FONT, size=37, color="black")))
annotations.append(dict(text=LEGEND_V61, x=px(521), y=py(399), xref="paper", yref="paper",
                        xanchor="left", yanchor="middle", showarrow=False,
                        font=dict(family=FONT, size=37, color="black")))

# WRMS box
shapes.append(dict(type="rect", xref="paper", yref="paper", x0=px(1545), x1=px(1905),
                   y0=py(22), y1=py(283), fillcolor="white", line=dict(color="black", width=2),
                   layer="above"))
annotations.append(dict(text="<u>WRMS (v61):</u>", x=px(1563), y=py(58), xref="paper",
                        yref="paper", xanchor="left", yanchor="middle", showarrow=False,
                        font=dict(family=FONT, size=48, color="black")))
for i, (lab, val) in enumerate(WRMS_ROWS):
    yc = 137 + i * 54
    annotations.append(dict(text=lab, x=px(1563), y=py(yc), xref="paper", yref="paper",
                            xanchor="left", yanchor="middle", showarrow=False,
                            font=dict(family=FONT, size=46, color="black")))
    annotations.append(dict(text=val, x=px(1659), y=py(yc), xref="paper", yref="paper",
                            xanchor="left", yanchor="middle", showarrow=False,
                            font=dict(family=FONT, size=46, color="black")))

# x-axis label
annotations.append(dict(text="year", x=px(831), y=py(1068), xref="paper", yref="paper",
                        xanchor="center", yanchor="middle", showarrow=False,
                        font=dict(family=FONT, size=41, color="black")))


# red double arrows
def line(x0, y0, x1, y1):
    return dict(type="line", xref="paper", yref="paper", x0=px(x0), y0=py(y0), x1=px(x1),
                y1=py(y1), line=dict(color=RED, width=6), layer="above")


def chevron(xt, yt, dx, dy=12):
    path = f"M {px(xt + dx)} {py(yt - dy)} L {px(xt)} {py(yt)} L {px(xt + dx)} {py(yt + dy)}"
    return dict(type="path", xref="paper", yref="paper", path=path,
                line=dict(color=RED, width=6), layer="above")


AY = 1093
for (a, b) in [(141, 594), (609, 1539)]:
    shapes.append(line(a + 3, AY, b - 3, AY))
    shapes.append(chevron(a, AY, 25))
    shapes.append(chevron(b, AY, -25))

annotations.append(dict(text="single-satellite ILRS solution", x=px(382), y=py(1140),
                        xref="paper", yref="paper", xanchor="center", yanchor="middle",
                        showarrow=False, font=dict(family=FONT, size=37.5, color=RED)))
annotations.append(dict(text="multi-satellite ILRS solution", x=px(1073), y=py(1133),
                        xref="paper", yref="paper", xanchor="center", yanchor="middle",
                        showarrow=False, font=dict(family=FONT, size=37.5, color=RED)))

layout["shapes"] = shapes
layout["annotations"] = annotations
fig.update_layout(**layout)

fig.write_html("out.html", config={"displayModeBar": False},
               post_script="document.body.style.margin='0';document.body.style.overflow='hidden';")
